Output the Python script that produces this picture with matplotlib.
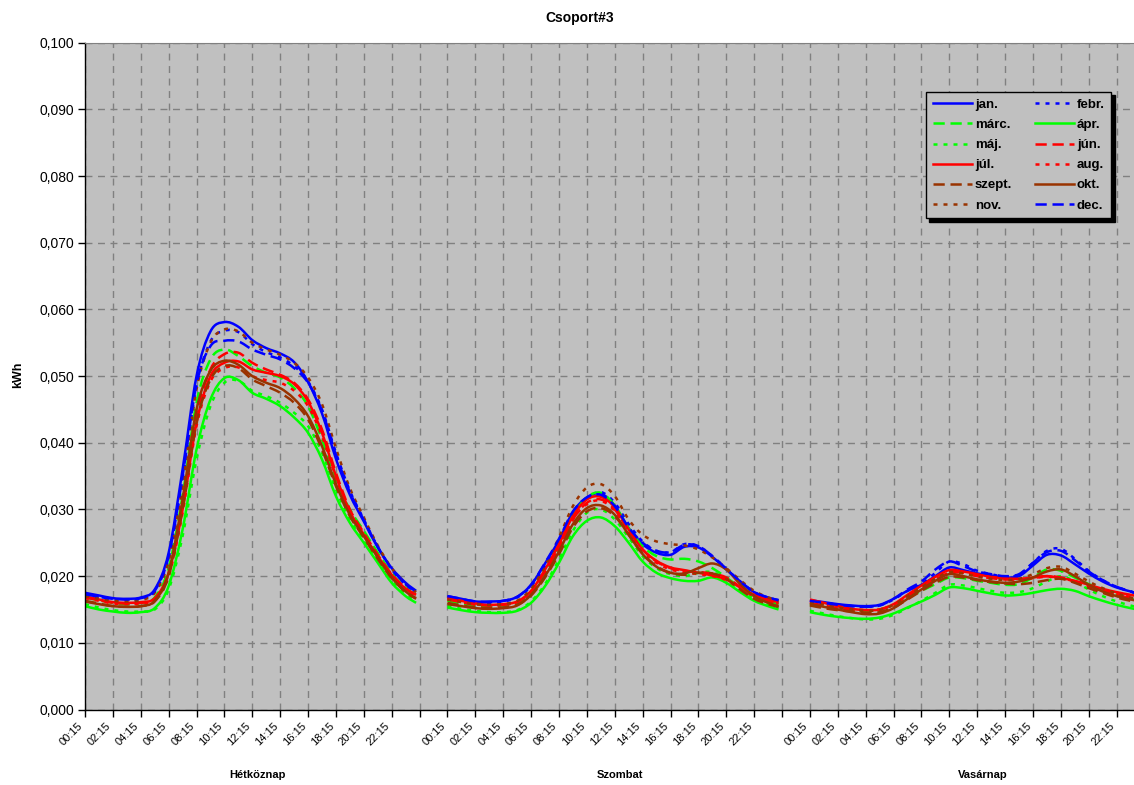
import matplotlib
matplotlib.use('Agg')
import matplotlib.pyplot as plt
import matplotlib.transforms as mtransforms
from matplotlib.path import Path
from matplotlib.patches import PathPatch
from matplotlib.lines import Line2D
from matplotlib.ticker import FixedLocator, FuncFormatter, MultipleLocator

plt.rcParams['font.family'] = ['Liberation Sans', 'DejaVu Sans']

# ---------------- data ----------------
title = 'Csoport#3'
y_label = 'kWh'
day_names = ['Hétköznap', 'Szombat', 'Vasárnap']
tick_times = ['00:15', '02:15', '04:15', '06:15', '08:15', '10:15',
              '12:15', '14:15', '16:15', '18:15', '20:15', '22:15']
sample_times = ['00:15', '01:15', '02:15', '03:15', '04:15', '05:15', '06:15',
                '07:15', '08:15', '09:15', '10:15', '11:15', '12:15', '13:15',
                '14:15', '15:15', '16:15', '17:15', '18:15', '19:15', '20:15',
                '21:15', '22:15', '23:15', '24:00']
months = ['jan.', 'febr.', 'márc.', 'ápr.', 'máj.', 'jún.',
          'júl.', 'aug.', 'szept.', 'okt.', 'nov.', 'dec.']

hetkoznap = {
    'jan.':   [.0175, .0171, .0167, .0166, .0168, .0180, .0235, .0360, .0500, .0567, .0581, .0574, .0554, .0542, .0534, .0521, .0491, .0444, .0376, .0322, .0282, .0243, .0212, .0190, .0178],
    'febr.':  [.0172, .0168, .0165, .0164, .0166, .0177, .0228, .0345, .0485, .0552, .0568, .0566, .0548, .0536, .0528, .0515, .0492, .0450, .0385, .0328, .0285, .0244, .0210, .0187, .0176],
    'márc.':  [.0168, .0164, .0160, .0158, .0160, .0168, .0212, .0320, .0460, .0525, .0540, .0530, .0515, .0505, .0498, .0482, .0455, .0405, .0345, .0300, .0268, .0235, .0204, .0182, .0172],
    'ápr.':   [.0155, .0150, .0147, .0145, .0146, .0152, .0185, .0270, .0390, .0465, .0497, .0494, .0475, .0466, .0455, .0438, .0415, .0375, .0320, .0280, .0250, .0220, .0190, .0170, .0160],
    'máj.':   [.0158, .0153, .0149, .0147, .0147, .0150, .0180, .0260, .0375, .0455, .0490, .0493, .0478, .0470, .0460, .0445, .0425, .0385, .0330, .0285, .0255, .0225, .0195, .0173, .0163],
    'jún.':   [.0168, .0164, .0160, .0159, .0160, .0166, .0205, .0305, .0440, .0510, .0533, .0535, .0520, .0510, .0502, .0490, .0465, .0420, .0355, .0300, .0265, .0232, .0203, .0182, .0172],
    'júl.':   [.0170, .0165, .0161, .0160, .0161, .0167, .0205, .0300, .0430, .0500, .0520, .0522, .0510, .0505, .0500, .0488, .0462, .0415, .0350, .0297, .0262, .0230, .0202, .0181, .0172],
    'aug.':   [.0167, .0163, .0159, .0158, .0159, .0165, .0200, .0295, .0425, .0492, .0512, .0513, .0500, .0494, .0490, .0478, .0455, .0410, .0348, .0295, .0262, .0230, .0201, .0180, .0170],
    'szept.': [.0163, .0159, .0155, .0154, .0155, .0162, .0200, .0300, .0430, .0495, .0515, .0512, .0495, .0485, .0475, .0460, .0435, .0390, .0335, .0290, .0258, .0226, .0197, .0176, .0166],
    'okt.':   [.0162, .0158, .0155, .0154, .0155, .0163, .0205, .0315, .0450, .0508, .0523, .0517, .0500, .0490, .0482, .0466, .0440, .0395, .0338, .0292, .0260, .0228, .0198, .0177, .0167],
    'nov.':   [.0170, .0166, .0163, .0162, .0164, .0175, .0222, .0335, .0480, .0550, .0570, .0567, .0550, .0540, .0532, .0520, .0498, .0458, .0392, .0332, .0288, .0246, .0212, .0188, .0176],
    'dec.':   [.0173, .0169, .0166, .0165, .0167, .0178, .0230, .0350, .0488, .0545, .0553, .0552, .0540, .0532, .0525, .0512, .0490, .0448, .0382, .0326, .0284, .0244, .0211, .0188, .0177],
}

szombat = {
    'jan.':   [.0170, .0166, .0162, .0162, .0163, .0169, .0187, .0219, .0254, .0296, .0318, .0324, .0305, .0272, .0248, .0235, .0232, .0244, .0243, .0229, .0210, .0192, .0176, .0168, .0164],
    'febr.':  [.0168, .0164, .0161, .0160, .0162, .0168, .0185, .0215, .0250, .0292, .0316, .0326, .0310, .0278, .0252, .0238, .0236, .0248, .0245, .0230, .0211, .0192, .0176, .0167, .0163],
    'márc.':  [.0163, .0159, .0156, .0155, .0156, .0160, .0176, .0205, .0245, .0290, .0318, .0325, .0306, .0272, .0245, .0230, .0225, .0226, .0222, .0212, .0198, .0183, .0170, .0162, .0158],
    'ápr.':   [.0153, .0149, .0146, .0145, .0145, .0148, .0160, .0185, .0220, .0260, .0283, .0288, .0275, .0250, .0222, .0205, .0197, .0193, .0193, .0198, .0190, .0176, .0163, .0155, .0150],
    'máj.':   [.0155, .0151, .0148, .0146, .0146, .0149, .0162, .0188, .0225, .0268, .0295, .0300, .0285, .0258, .0230, .0212, .0203, .0200, .0205, .0206, .0195, .0180, .0166, .0158, .0153],
    'jún.':   [.0165, .0161, .0157, .0156, .0157, .0161, .0177, .0207, .0243, .0285, .0310, .0315, .0300, .0268, .0240, .0222, .0212, .0208, .0206, .0204, .0198, .0184, .0171, .0163, .0159],
    'júl.':   [.0168, .0163, .0159, .0157, .0158, .0162, .0178, .0210, .0248, .0290, .0315, .0319, .0303, .0270, .0240, .0223, .0213, .0209, .0205, .0201, .0195, .0183, .0172, .0165, .0161],
    'aug.':   [.0166, .0162, .0158, .0156, .0157, .0161, .0176, .0206, .0243, .0285, .0308, .0313, .0298, .0266, .0238, .0220, .0210, .0206, .0203, .0200, .0194, .0181, .0170, .0163, .0159],
    'szept.': [.0160, .0156, .0153, .0152, .0153, .0157, .0171, .0198, .0233, .0273, .0297, .0302, .0290, .0262, .0234, .0215, .0205, .0202, .0205, .0204, .0196, .0180, .0166, .0158, .0154],
    'okt.':   [.0158, .0155, .0152, .0151, .0152, .0156, .0172, .0200, .0237, .0278, .0302, .0306, .0292, .0262, .0233, .0214, .0205, .0204, .0212, .0219, .0210, .0188, .0170, .0160, .0155],
    'nov.':   [.0165, .0161, .0158, .0157, .0158, .0163, .0181, .0215, .0258, .0305, .0333, .0338, .0320, .0285, .0262, .0252, .0248, .0246, .0240, .0228, .0212, .0194, .0178, .0168, .0163],
    'dec.':   [.0170, .0166, .0162, .0161, .0163, .0169, .0187, .0220, .0256, .0297, .0318, .0322, .0305, .0273, .0250, .0238, .0236, .0247, .0245, .0230, .0211, .0192, .0176, .0168, .0164],
}

vasarnap = {
    'jan.':   [.0164, .0161, .0158, .0156, .0155, .0157, .0166, .0178, .0187, .0200, .0213, .0209, .0204, .0201, .0198, .0200, .0216, .0232, .0231, .0218, .0204, .0192, .0183, .0177, .0172],
    'febr.':  [.0163, .0160, .0157, .0155, .0154, .0156, .0165, .0178, .0188, .0205, .0222, .0218, .0208, .0203, .0199, .0202, .0220, .0238, .0241, .0226, .0208, .0194, .0184, .0177, .0172],
    'márc.':  [.0158, .0155, .0151, .0149, .0148, .0150, .0157, .0168, .0178, .0188, .0198, .0197, .0193, .0190, .0187, .0188, .0198, .0210, .0208, .0198, .0188, .0180, .0172, .0166, .0162],
    'ápr.':   [.0146, .0142, .0139, .0137, .0136, .0138, .0144, .0153, .0162, .0172, .0183, .0182, .0178, .0174, .0171, .0172, .0175, .0179, .0181, .0178, .0170, .0163, .0157, .0152, .0149],
    'máj.':   [.0148, .0144, .0140, .0137, .0135, .0136, .0142, .0152, .0163, .0175, .0187, .0186, .0182, .0178, .0175, .0176, .0182, .0192, .0200, .0192, .0180, .0170, .0162, .0156, .0152],
    'jún.':   [.0160, .0156, .0152, .0150, .0149, .0150, .0157, .0170, .0183, .0195, .0205, .0205, .0200, .0197, .0195, .0195, .0197, .0200, .0198, .0192, .0185, .0178, .0172, .0167, .0164],
    'júl.':   [.0165, .0160, .0155, .0151, .0149, .0150, .0158, .0172, .0186, .0199, .0209, .0207, .0203, .0199, .0197, .0196, .0198, .0200, .0197, .0193, .0187, .0181, .0176, .0172, .0169],
    'aug.':   [.0162, .0158, .0154, .0151, .0149, .0150, .0157, .0170, .0184, .0196, .0206, .0205, .0201, .0198, .0196, .0195, .0197, .0199, .0197, .0192, .0186, .0179, .0173, .0169, .0166],
    'szept.': [.0156, .0152, .0149, .0147, .0145, .0146, .0153, .0165, .0178, .0190, .0199, .0198, .0194, .0191, .0189, .0188, .0190, .0194, .0196, .0190, .0182, .0175, .0168, .0163, .0160],
    'okt.':   [.0158, .0154, .0150, .0146, .0143, .0144, .0152, .0166, .0180, .0193, .0203, .0200, .0195, .0192, .0190, .0192, .0198, .0207, .0210, .0200, .0187, .0177, .0170, .0165, .0162],
    'nov.':   [.0160, .0157, .0153, .0150, .0148, .0149, .0157, .0170, .0183, .0196, .0206, .0204, .0199, .0196, .0194, .0196, .0203, .0212, .0214, .0204, .0192, .0182, .0174, .0168, .0165],
    'dec.':   [.0163, .0160, .0157, .0155, .0154, .0156, .0166, .0180, .0192, .0210, .0222, .0215, .0207, .0203, .0200, .0203, .0220, .0236, .0238, .0224, .0207, .0194, .0184, .0177, .0172],
}
days = [hetkoznap, szombat, vasarnap]

# ---------------- styles ----------------
BLUE, GREEN, RED, BROWN = '#0000FF', '#00FF00', '#FF0000', '#993300'
DASH = (0, (4.5, 2.3))
DOT = (0, (1.6, 2.4))
styles = {
    'jan.': (BLUE, '-'), 'febr.': (BLUE, DOT), 'márc.': (GREEN, DASH),
    'ápr.': (GREEN, '-'), 'máj.': (GREEN, DOT), 'jún.': (RED, DASH),
    'júl.': (RED, '-'), 'aug.': (RED, DOT), 'szept.': (BROWN, DASH),
    'okt.': (BROWN, '-'), 'nov.': (BROWN, DOT), 'dec.': (BLUE, DASH),
}
LW = 1.8

SLOTS_PER_DAY = 96
DAY_STRIDE = 104  # 96 quarter hours + 8 empty categories


def slot_of(t):
    h, m = t.split(':')
    return (int(h) * 60 + int(m)) // 15 - 1


def smooth_path(xs, ys):
    """Excel-style smoothed line: cubic Bezier segments through the data points."""
    pts = list(zip(xs, ys))
    n = len(pts)
    verts = [pts[0]]
    codes = [Path.MOVETO]
    for i in range(n - 1):
        p0 = pts[i - 1] if i > 0 else pts[i]
        p1 = pts[i]
        p2 = pts[i + 1]
        p3 = pts[i + 2] if i + 2 < n else pts[i + 1]
        c1 = (p1[0] + (p2[0] - p0[0]) / 6, p1[1] + (p2[1] - p0[1]) / 6)
        c2 = (p2[0] - (p3[0] - p1[0]) / 6, p2[1] - (p3[1] - p1[1]) / 6)
        verts += [c1, c2, p2]
        codes += [Path.CURVE4] * 3
    return Path(verts, codes)


fig = plt.figure(figsize=(11.34, 7.85), dpi=100)
ax = fig.add_axes([85 / 1134, (785 - 709.5) / 785, 1056 / 1134, 666.8 / 785])
ax.set_facecolor('#C0C0C0')

for z, m in enumerate(months):
    color, ls = styles[m]
    for d, day in enumerate(days):
        xs = [d * DAY_STRIDE + slot_of(t) for t in sample_times]
        patch = PathPatch(smooth_path(xs, day[m]), fill=False, edgecolor=color,
                          linestyle=ls, lw=LW, capstyle='butt',
                          joinstyle='round', zorder=2 + z * 0.01)
        ax.add_patch(patch)

ax.set_xlim(0, 2 * DAY_STRIDE + SLOTS_PER_DAY - 1)
ax.set_ylim(0, 0.1)

# x ticks
tick_pos = list(range(0, 2 * DAY_STRIDE + SLOTS_PER_DAY, 8))
tick_lab = []
for p in tick_pos:
    s = p % DAY_STRIDE
    tick_lab.append(tick_times[s // 8] if s < SLOTS_PER_DAY else '')
ax.xaxis.set_major_locator(FixedLocator(tick_pos))
ax.set_xticklabels(tick_lab, rotation=45, ha='right', va='top', fontsize=8)
ax.yaxis.set_major_locator(MultipleLocator(0.01))
ax.yaxis.set_major_formatter(FuncFormatter(lambda v, p: f'{v:.3f}'.replace('.', ',')))
ax.tick_params(axis='y', labelsize=10, direction='out', length=5, width=1, pad=3)
ax.tick_params(axis='x', direction='out', length=5, width=1, pad=3)

ax.grid(True, color='#808080', linestyle=(0, (5, 4)), linewidth=1)
ax.set_axisbelow(True)
for side in ['left', 'bottom']:
    ax.spines[side].set_color('black')
    ax.spines[side].set_linewidth(1)
ax.spines['top'].set_color('#808080')
ax.spines['right'].set_visible(False)

# group labels
trans = mtransforms.blended_transform_factory(ax.transData, fig.transFigure)
for d, name in enumerate(day_names):
    ax.text(d * DAY_STRIDE + (SLOTS_PER_DAY + 3) / 2, 1 - 775 / 785, name,
            transform=trans, ha='center', va='center', fontsize=8,
            fontweight='bold')

fig.text(580 / 1134, 1 - 18 / 785, title, ha='center', va='center',
         fontsize=10, fontweight='bold')
fig.text(18 / 1134, 1 - 375 / 785, y_label, ha='center', va='center',
         rotation=90, fontsize=9, fontweight='bold')

order = ['jan.', 'márc.', 'máj.', 'júl.', 'szept.', 'nov.',
         'febr.', 'ápr.', 'jún.', 'aug.', 'okt.', 'dec.']
proxies = [Line2D([], [], color=styles[m][0], linestyle=styles[m][1], lw=LW,
                  dash_capstyle='butt') for m in order]
leg = fig.legend(proxies, order, ncol=2,
                 loc='upper left', bbox_to_anchor=(926 / 1134, 1 - 92 / 785),
                 prop={'size': 9.5, 'weight': 'bold'}, frameon=True,
                 fancybox=False, framealpha=1, edgecolor='black',
                 facecolor='#C0C0C0', handlelength=3.0, handletextpad=0.2,
                 columnspacing=1.7, labelspacing=0.6, borderpad=0.5,
                 borderaxespad=0,
                 shadow={'ox': 2.5, 'oy': -2.5, 'color': 'black', 'alpha': 1})
leg.get_frame().set_linewidth(1)

fig.savefig('out.png', dpi=100)
